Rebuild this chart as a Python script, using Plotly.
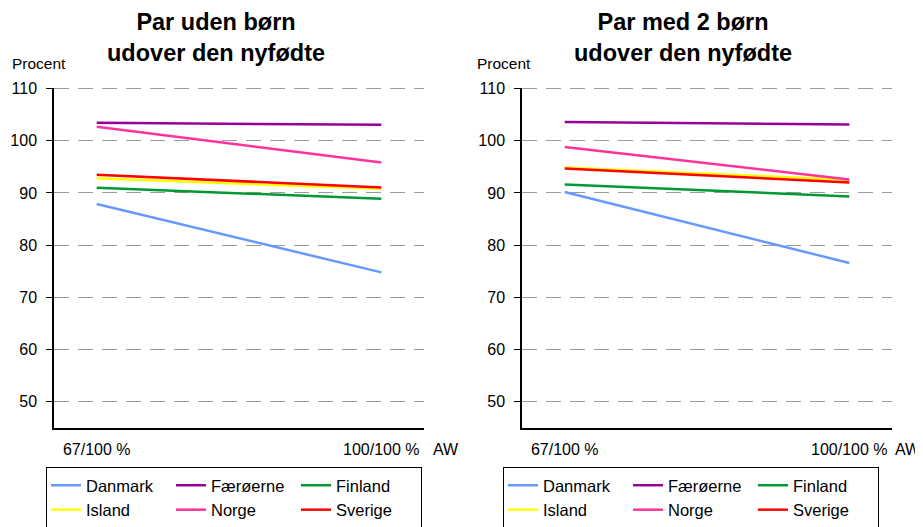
import plotly.graph_objects as go
from plotly.subplots import make_subplots

# data
categories = ["67/100 %", "100/100 %"]
countries = ["Danmark", "Færøerne", "Finland", "Island", "Norge", "Sverige"]
colors = ["#6699FF", "#990099", "#009933", "#FFFF00", "#FF3399", "#FF0000"]
groups = ["c1", "c2", "c3", "c1", "c2", "c3"]

uden_born = {
    "Danmark": [87.9, 74.8],
    "Færøerne": [103.45, 103.05],
    "Finland": [91.0, 88.9],
    "Island": [92.8, 90.8],
    "Norge": [102.7, 95.85],
    "Sverige": [93.5, 91.05],
}
med_2_born = {
    "Danmark": [90.2, 76.6],
    "Færøerne": [103.6, 103.1],
    "Finland": [91.65, 89.35],
    "Island": [94.9, 92.5],
    "Norge": [98.8, 92.6],
    "Sverige": [94.7, 92.0],
}

y_ticks = [50, 60, 70, 80, 90, 100, 110]
FONT = "Liberation Sans, Arial, sans-serif"
W, H = 923, 527
OFF = 8  # page body margin shifts the figure


def px(x):
    return (x - OFF) / W


def py(y):
    return 1 - (y - OFF) / H


fig = make_subplots(rows=1, cols=2)

for i, c in enumerate(countries):
    fig.add_trace(go.Scatter(
        x=categories, y=uden_born[c], name=c, mode="lines",
        line=dict(color=colors[i], width=2.5),
        legendgroup=groups[i], legend="legend"), row=1, col=1)
for i, c in enumerate(countries):
    fig.add_trace(go.Scatter(
        x=categories, y=med_2_born[c], name=c, mode="lines",
        line=dict(color=colors[i], width=2.5),
        legendgroup=groups[i] + "b", legend="legend2"), row=1, col=2)

xa = dict(type="category", range=[-0.15, 1.15], showline=True, linecolor="black",
          linewidth=1.5, ticks="", showgrid=False, zeroline=False,
          tickfont=dict(size=16, color="black", family=FONT), ticklabelstandoff=6)
# top of range nudged just above 110 so the 110 gridline is drawn
ya = dict(range=[45, 110.2], tickvals=y_ticks, showline=True, linecolor="black",
          linewidth=1.5, ticks="outside", ticklen=6, tickcolor="black",
          showgrid=True, gridcolor="#9A9A9A", griddash="15px,9px", gridwidth=1,
          zeroline=False, tickfont=dict(size=16, color="black", family=FONT),
          ticklabelstandoff=6)

fig.update_layout(
    xaxis=dict(xa, domain=[px(54), px(424)]),
    xaxis2=dict(xa, domain=[px(522), px(892)]),
    yaxis=dict(ya, domain=[py(428), py(87.5)]),
    yaxis2=dict(ya, domain=[py(428), py(87.5)]),
)

leg = dict(orientation="h", traceorder="grouped", bordercolor="black", borderwidth=1,
           bgcolor="white", font=dict(size=16.5, color="black", family=FONT),
           yanchor="top", xanchor="left", entrywidth=80, tracegroupgap=0)
fig.update_layout(
    legend=dict(leg, x=px(46), y=py(467)),
    legend2=dict(leg, x=px(503), y=py(467)),
)

ann = []
for x, t in [(216, "Par uden børn<br>udover den nyfødte"), (683, "Par med 2 børn<br>udover den nyfødte")]:
    ann.append(dict(text="<b>" + t + "</b>", x=px(x), y=py(38), xref="paper", yref="paper",
                    xanchor="center", yanchor="middle", showarrow=False,
                    font=dict(size=23.5, color="black", family=FONT)))
for x in [10, 475]:
    ann.append(dict(text="Procent", x=px(x), y=py(64), xref="paper", yref="paper",
                    xanchor="left", yanchor="middle", showarrow=False,
                    font=dict(size=15.5, color="black", family=FONT)))
for x in [446, 908]:
    ann.append(dict(text="AW", x=px(x), y=py(449), xref="paper", yref="paper",
                    xanchor="center", yanchor="middle", showarrow=False,
                    font=dict(size=16, color="black", family=FONT)))

fig.update_layout(
    annotations=ann,
    width=W, height=H,
    margin=dict(l=0, r=0, t=0, b=0, autoexpand=False),
    paper_bgcolor="white", plot_bgcolor="white",
    font=dict(family=FONT, color="black"),
)

fig.write_html("out.html")
